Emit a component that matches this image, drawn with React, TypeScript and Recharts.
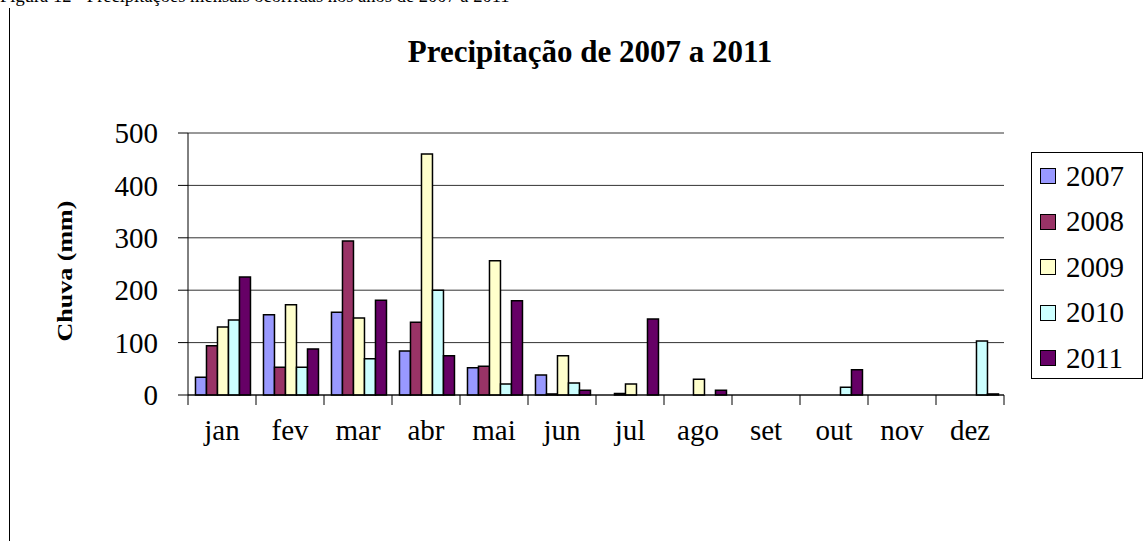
import { BarChart, Bar, XAxis, YAxis, CartesianGrid } from 'recharts';

const months = ['jan', 'fev', 'mar', 'abr', 'mai', 'jun', 'jul', 'ago', 'set', 'out', 'nov', 'dez'];
const years = ['2007', '2008', '2009', '2010', '2011'];
const rain2007 = [34, 153, 158, 84, 52, 38, null, null, null, null, null, null];
const rain2008 = [94, 53, 294, 139, 55, 2, 3, null, null, null, null, null];
const rain2009 = [130, 172, 147, 460, 256, 75, 21, 30, null, null, null, null];
const rain2010 = [143, 53, 69, 200, 21, 23, null, null, null, 15, null, 103];
const rain2011 = [225, 88, 181, 75, 180, 9, 145, 9, null, 48, null, 2];
const yTicks = [0, 100, 200, 300, 400, 500];

const colors = ['#9999FF', '#993366', '#FFFFCC', '#CCFFFF', '#660066'];
const series = [rain2007, rain2008, rain2009, rain2010, rain2011];

const data = months.map((m, i) => {
  const row: any = { month: m };
  years.forEach((y, k) => { row[y] = series[k][i]; });
  return row;
});

const FONT = '"Liberation Serif", "Times New Roman", serif';
const BAND = (1004 - 188) / 12;

const MonthTick = (props: any) => {
  const { x, y, payload, index } = props;
  return (
    <g>
      <line x1={x - BAND / 2} y1={y} x2={x - BAND / 2} y2={y + 10} stroke="#000" />
      {index === months.length - 1 && (
        <line x1={x + BAND / 2} y1={y} x2={x + BAND / 2} y2={y + 10} stroke="#000" />
      )}
      <text x={x} y={y + 45} textAnchor="middle" fontFamily={FONT} fontSize={29} fill="#000">
        {payload.value}
      </text>
    </g>
  );
};

export default function App() {
  return (
    <div style={{ position: 'absolute', left: 0, top: 0, width: 1148, height: 541, background: '#fff', overflow: 'hidden' }}>
      <div style={{ position: 'absolute', left: 0, top: -13, fontFamily: FONT, fontSize: 18.5, lineHeight: 1, whiteSpace: 'nowrap' }}>
        Figura 12 - Precipitações mensais ocorridas nos anos de 2007 a 2011
      </div>
      <div style={{ position: 'absolute', left: 9, top: 8, width: 1, height: 533, background: '#000' }} />
      <div style={{ position: 'absolute', left: 390, width: 400, top: 36, textAlign: 'center', fontFamily: FONT, fontSize: 31, fontWeight: 'bold', lineHeight: 1, whiteSpace: 'nowrap' }}>
        Precipitação de 2007 a 2011
      </div>
      <div style={{ position: 'absolute', left: 65, top: 271, width: 0, height: 0 }}>
        <div style={{ position: 'absolute', left: -100, top: -10, width: 200, textAlign: 'center', fontFamily: FONT, fontSize: 20, fontWeight: 'bold', lineHeight: '20px', whiteSpace: 'nowrap', transform: 'rotate(-90deg) scaleX(1.3)' }}>
          Chuva (mm)
        </div>
      </div>
      <BarChart
        width={1148}
        height={541}
        data={data}
        margin={{ top: 133, right: 144, bottom: 96, left: 108 }}
        barCategoryGap="11%"
        barGap={0}
      >
        <CartesianGrid vertical={false} stroke="#333" />
        <XAxis
          dataKey="month"
          height={50}
          tickLine={false}
          tickSize={0}
          tickMargin={0}
          axisLine={{ stroke: '#000' }}
          interval={0}
          tick={<MonthTick />}
        />
        <YAxis
          width={80}
          domain={[0, 500]}
          ticks={yTicks}
          tickSize={10}
          tickMargin={20}
          axisLine={{ stroke: '#000' }}
          tickLine={{ stroke: '#000' }}
          tick={{ fontFamily: FONT, fontSize: 29, fill: '#000' }}
        />
        <YAxis
          yAxisId="right"
          orientation="right"
          width={0}
          domain={[0, 500]}
          tick={false}
          tickLine={false}
          axisLine={{ stroke: '#000' }}
        />
        {years.map((y, k) => (
          <Bar key={y} dataKey={y} fill={colors[k]} stroke="#000" strokeWidth={1.5} isAnimationActive={false} />
        ))}
      </BarChart>
      <div style={{ position: 'absolute', left: 1031, top: 152, width: 112, height: 227, border: '1px solid #000', boxSizing: 'border-box' }}>
        {years.map((y, k) => (
          <div key={y} style={{ position: 'absolute', left: 8, top: 23 + k * 45.5 - 23, height: 46, display: 'flex', alignItems: 'center' }}>
            <div style={{ width: 14, height: 14, background: colors[k], border: '1px solid #000' }} />
            <span style={{ marginLeft: 10, fontFamily: FONT, fontSize: 29, lineHeight: 1 }}>{y}</span>
          </div>
        ))}
      </div>
    </div>
  );
}
